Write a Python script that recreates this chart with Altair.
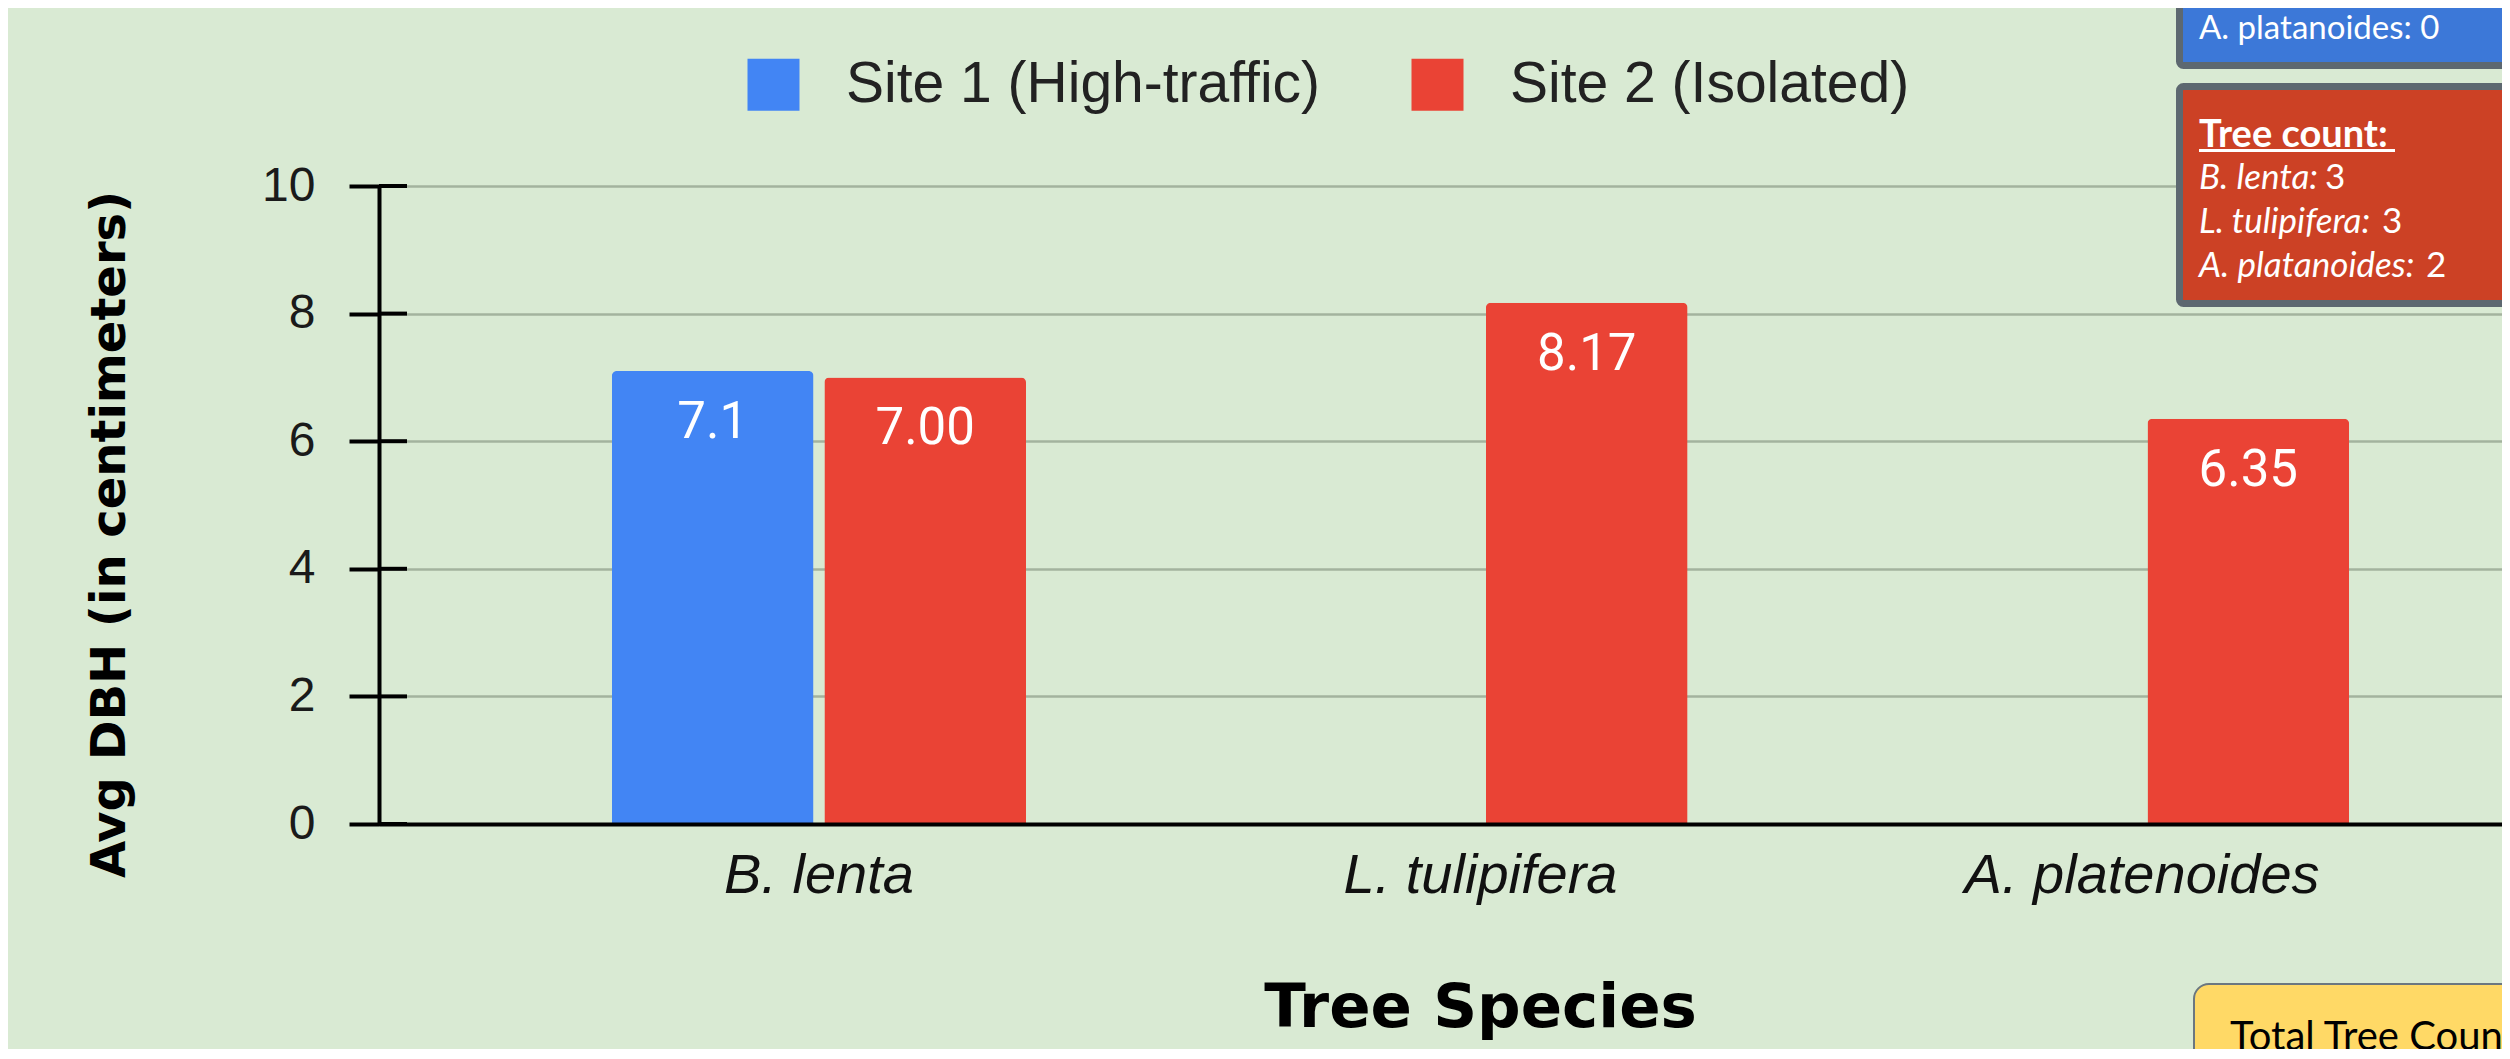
import altair as alt
import pandas as pd

# ---- data ----
species = ["B. lenta", "L. tulipifera", "A. platenoides"]
sites = ["Site 1 (High-traffic)", "Site 2 (Isolated)"]
site1_dbh = [7.1, None, None]
site2_dbh = [7.00, 8.17, 6.35]
site_colors = ["#4285f4", "#ea4335"]
y_ticks = [0, 2, 4, 6, 8, 10]

site1_count_lines = ["A. platanoides: 0"]
site2_count_title = "Tree count:"
site2_count_names = ["B. lenta:", "L. tulipifera:", "A. platanoides:"]
site2_counts = ["3", "3", "2"]
total_label = "Total Tree Count:"

rows = []
for sp, v in zip(species, site1_dbh):
    rows.append({"species": sp, "site": sites[0], "dbh": v,
                 "label": "" if v is None else f"{v:.1f}"})
for sp, v in zip(species, site2_dbh):
    rows.append({"species": sp, "site": sites[1], "dbh": v,
                 "label": "" if v is None else f"{v:.2f}"})
df = pd.DataFrame(rows)

BG = "#d9ead3"
TITLE_FONT = "DejaVu Sans"

x_enc = alt.X(
    "species:N", sort=species,
    scale=alt.Scale(range=[0, 2203], paddingInner=0.374, paddingOuter=0.352),
    axis=alt.Axis(
        title="Tree Species", labelAngle=0, ticks=False, tickSize=0,
        domainColor="black", domainWidth=4, grid=False, zindex=1,
        labelFont="Liberation Sans", labelFontStyle="italic", labelFontSize=56,
        labelColor="#111111", labelBaseline="alphabetic", labelPadding=68,
        labelLimit=1000,
        titleFont=TITLE_FONT, titleFontWeight="bold", titleFontSize=61, titleColor="black",
        titleX=1101, titleY=202, titleAlign="center", titleBaseline="alphabetic",
        titleLimit=3000,
    ),
)
y_enc = alt.Y(
    "dbh:Q",
    scale=alt.Scale(domain=[0, 10], nice=False),
    axis=alt.Axis(
        values=y_ticks, format="d", title="Avg DBH (in centimeters)",
        tickSize=30, tickWidth=4, tickColor="black",
        domainColor="black", domainWidth=4,
        labelFont="Liberation Sans", labelFontSize=48, labelColor="#1a1a1a",
        labelPadding=34,
        grid=True, gridColor="#a3b39e", gridWidth=2.5,
        titleFont=TITLE_FONT, titleFontWeight="bold", titleFontSize=48, titleColor="black",
        titleAngle=270, titleX=-255, titleY=348, titleAlign="center",
        titleBaseline="alphabetic", titleLimit=3000,
    ),
)
xoff = alt.XOffset("site:N", sort=sites, scale=alt.Scale(paddingInner=0.051, paddingOuter=0))

base = alt.Chart(df).encode(x=x_enc, xOffset=xoff, y=y_enc)

bars = base.mark_bar(cornerRadiusTopLeft=5, cornerRadiusTopRight=5).encode(
    color=alt.Color(
        "site:N", sort=sites,
        scale=alt.Scale(domain=sites, range=site_colors),
        legend=alt.Legend(
            orient="none", legendX=366, legendY=-130, direction="horizontal",
            title=None, symbolType="square", symbolSize=2704, symbolStrokeWidth=0,
            symbolOpacity=1, labelFont="Liberation Sans", labelFontSize=57,
            labelColor="#222222", labelOffset=44, columnPadding=88, padding=0,
            labelLimit=1000,
        ),
    )
)

labels = base.mark_text(
    baseline="middle", dy=52, color="white", font="Roboto", fontSize=51
).encode(text="label:N").transform_filter("isValid(datum.dbh)")

tick_df = pd.DataFrame({"dbh": y_ticks})
inner_ticks = alt.Chart(tick_df).mark_rule(color="black", strokeWidth=4).encode(
    y="dbh:Q", x=alt.value(0), x2=alt.value(28)
)

one = pd.DataFrame({"k": [0]})


def box(x, x2, y, y2, fill, stroke, sw, r):
    return alt.Chart(one).mark_rect(
        fill=fill, stroke=stroke, strokeWidth=sw, cornerRadius=r
    ).encode(x=alt.value(x), x2=alt.value(x2), y=alt.value(y), y2=alt.value(y2))


def txt(text, x, y, size, style="normal", weight="normal", color="white"):
    return alt.Chart(one).mark_text(
        text=text, align="left", baseline="alphabetic", font="Lato",
        fontSize=size, fontStyle=style, fontWeight=weight, color=color
    ).encode(x=alt.value(x), y=alt.value(y))


annots = []
# blue box (Site 1 counts), mostly cropped above
annots.append(box(1800.5, 2300, -400, -120.5, "#3c78d8", "#5d6870", 7, 4))
annots.append(txt(site1_count_lines[0], 1820, -147, 33))
# red box (Site 2 counts)
annots.append(box(1800.5, 2300, -99.5, 117.5, "#cc4125", "#5d6870", 7, 4))
annots.append(txt(site2_count_title, 1820, -39, 38, weight="bold"))
annots.append(box(1820, 2016, -37, -34, "white", "white", 0, 0))
name_y = [3, 47, 91]
num_x = [1946, 2003, 2047]
for nm, cnt, yy, xx in zip(site2_count_names, site2_counts, name_y, num_x):
    annots.append(txt(nm, 1820, yy, 35, style="italic"))
    annots.append(txt(cnt, xx, yy, 35))
# yellow box
annots.append(box(1815, 2300, 798, 1000, "#ffd966", "#6b7780", 2, 15))
annots.append(txt(total_label, 1851, 864, 40, color="black"))

chart = alt.layer(bars, labels, inner_ticks, *annots).properties(
    width=2123, height=638,
    padding={"left": 371, "top": 178, "right": 0, "bottom": 225},
    autosize=alt.AutoSizeParams(type="none"),
).configure(background=BG).configure_view(stroke=None)

chart.save("out.html", embed_options={"renderer": "svg", "actions": False})
